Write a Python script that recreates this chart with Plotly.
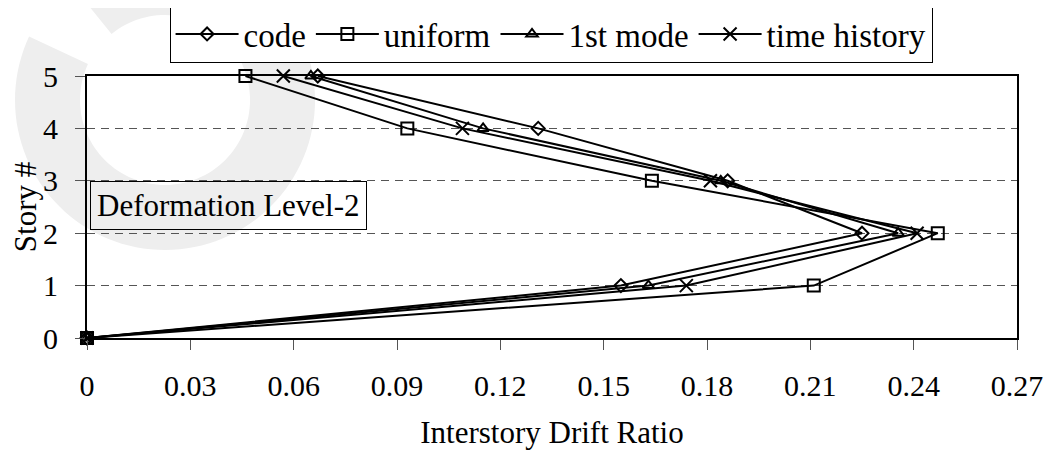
import numpy as np
import plotly.graph_objects as go

stories = [0, 1, 2, 3, 4, 5]
code = [0, 0.155, 0.225, 0.186, 0.131, 0.067]
uniform = [0, 0.211, 0.247, 0.164, 0.093, 0.046]
first_mode = [0, 0.163, 0.2355, 0.184, 0.115, 0.065]
time_history = [0, 0.174, 0.241, 0.181, 0.109, 0.057]

x_ticks = [0, 0.03, 0.06, 0.09, 0.12, 0.15, 0.18, 0.21, 0.24, 0.27]
x_tick_labels = ["0", "0.03", "0.06", "0.09", "0.12", "0.15", "0.18", "0.21", "0.24", "0.27"]
y_ticks = [0, 1, 2, 3, 4, 5]

FONT = "Liberation Serif"
FS = 30

# page offset (browser body margin)
OFF = 8
W, H = 1053, 453
L, T = 87 - OFF, 76 - OFF
R = (OFF + W) - 1017
B = (OFF + H) - 338
PW = W - L - R
PH = H - T - B

series = [
    ("code", code, "diamond-open", 10),
    ("uniform", uniform, "square-open", 12),
    ("1st mode", first_mode, "triangle-up-open", 10),
    ("time history", time_history, "x-thin-open", 13),
]

fig = go.Figure()
for name, vals, sym, sz in series:
    fig.add_trace(go.Scatter(
        x=vals, y=stories, name=name, mode="lines+markers",
        line=dict(color="black", width=2),
        marker=dict(symbol=sym, size=sz, color="black",
                    line=dict(color="black", width=2)),
        cliponaxis=False,
    ))

# faint background watermark (decorative ring)
def px2paper(px, py):
    return (px - OFF - L) / PW, (H + OFF - B - py) / PH

cx, cy, ro, ri = 165, 100, 150, 85
th = np.radians(np.linspace(-129, 205, 120))
outer = [px2paper(cx + ro * np.cos(t), cy + ro * np.sin(t)) for t in th]
inner = [px2paper(cx + ri * np.cos(t), cy + ri * np.sin(t)) for t in th[::-1]]
pts = outer + inner
path = "M " + " L ".join(f"{x:.4f},{y:.4f}" for x, y in pts) + " Z"
fig.add_shape(type="path", path=path, xref="paper", yref="paper",
              fillcolor="#eeeeee", line=dict(width=0), layer="below")

fig.add_annotation(
    text="Deformation Level-2", xref="paper", yref="y",
    x=0.003, y=2.53, xanchor="left", yanchor="middle",
    showarrow=False, font=dict(family=FONT, size=31, color="black"),
    bordercolor="black", borderwidth=1, borderpad=6, align="left",
)

fig.update_layout(
    width=W, height=H,
    margin=dict(l=L, r=R, t=T, b=B, autoexpand=False),
    paper_bgcolor="white", plot_bgcolor="rgba(0,0,0,0)",
    font=dict(family=FONT, size=FS, color="black"),
    showlegend=True,
    legend=dict(
        orientation="h", x=0.499, xanchor="center",
        y=px2paper(0, 5)[1], yanchor="top",
        bordercolor="black", borderwidth=1, bgcolor="white",
        font=dict(family=FONT, size=33, color="black"),
        itemwidth=63, tracegroupgap=0,
    ),
    xaxis=dict(
        range=[0, 0.27], tickvals=x_ticks, ticktext=x_tick_labels,
        showgrid=False, zeroline=False,
        showline=True, linecolor="black", linewidth=2, mirror=True,
        ticks="outside", ticklen=10, tickcolor="#555", tickwidth=1,
        ticklabelstandoff=10,
        tickfont=dict(family=FONT, size=FS),
        title=dict(text="Interstory Drift Ratio", standoff=20,
                   font=dict(family=FONT, size=31)),
    ),
    yaxis=dict(
        range=[0, 5], tickvals=y_ticks,
        showgrid=True, gridcolor="#555", griddash="8px,6px", gridwidth=1.3,
        zeroline=False,
        showline=True, linecolor="black", linewidth=2, mirror=True,
        ticks="outside", ticklen=10, tickcolor="#555", tickwidth=1,
        ticklabelstandoff=11,
        tickfont=dict(family=FONT, size=FS),
        title=dict(text="Story #", standoff=2,
                   font=dict(family=FONT, size=31)),
    ),
)

fig.write_html("out.html")
